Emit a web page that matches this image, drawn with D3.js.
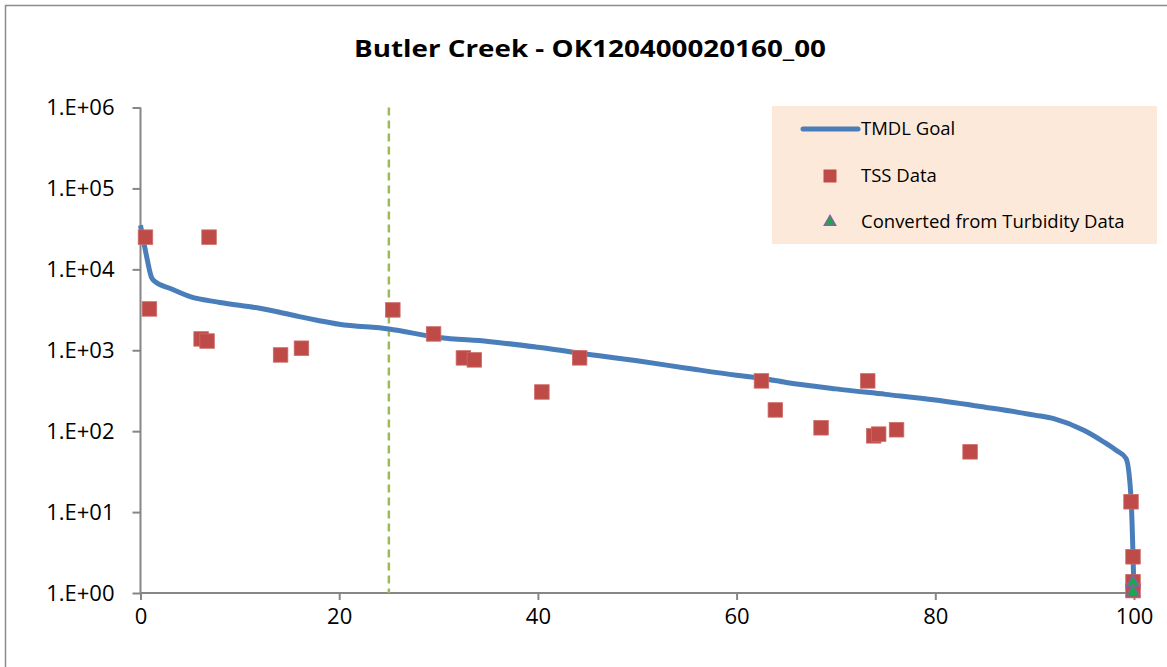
<!DOCTYPE html>
<html>
<head>
<meta charset="utf-8">
<script src="https://cdn.jsdelivr.net/npm/d3@7/dist/d3.min.js"></script>
<style>
  html, body { margin: 0; padding: 0; background: #fff; }
  svg { display: block; }
  text { font-family: "Open Sans", "Liberation Sans", sans-serif; fill: #000; }
</style>
</head>
<body>
<svg id="chart" width="1167" height="667"></svg>
<script>
// Load duration curve: percent of days flow exceeded vs. TSS load
const chartTitle = "Butler Creek - OK120400020160_00";

// TMDL goal curve
const tmdlPct  = [0, 0.5, 1.1, 1.5, 3, 5, 8, 12, 14, 16, 18, 20, 25, 30, 35, 40, 46, 50, 55, 60, 62.5, 65, 70, 75, 80, 85, 90, 92, 95, 97, 98.2, 99.2, 99.7, 100];
const tmdlLoad = [35000, 17000, 8000, 7000, 5800, 4600, 3900, 3300, 2950, 2600, 2320, 2100, 1830, 1440, 1285, 1087, 860, 740, 600, 490, 450, 400, 333, 285, 243, 198, 158, 142, 102, 73, 58, 46, 15, 1];

// Observed TSS loads
const tssPct  = [0.5, 6.9, 0.9, 6.1, 6.7, 14.1, 16.2, 25.4, 29.5, 32.5, 33.6, 40.4, 44.2, 62.5, 63.9, 68.5, 73.2, 73.8, 74.3, 76.1, 83.5, 99.7, 99.9, 99.9, 99.9];
const tssLoad = [25000, 25000, 3240, 1380, 1300, 875, 1060, 3150, 1590, 804, 760, 305, 805, 418, 183, 110, 418, 87.5, 92, 104, 55.5, 13.4, 2.8, 1.38, 1.07];

// Loads converted from turbidity
const turbPct  = [99.9, 99.9];
const turbLoad = [1.34, 1.03];

const criticalPct = 25;

const xTicks = [0, 20, 40, 60, 80, 100];
const yTicks = [1, 10, 100, 1000, 10000, 100000, 1000000];
const yTickLabels = ["1.E+00", "1.E+01", "1.E+02", "1.E+03", "1.E+04", "1.E+05", "1.E+06"];

const legendLabels = ["TMDL Goal", "TSS Data", "Converted from Turbidity Data"];

const colors = {
  line: "#4A7EBB",
  tss: "#BE4B48",
  turbFill: "#1AA84A",
  turbStroke: "#8064A2",
  critical: "#9BBB59",
  axis: "#868686",
  legendBg: "#FDE9D9"
};

const svg = d3.select("#chart");

// outer chart frame
svg.append("rect")
  .attr("x", 5.5).attr("y", 5.5)
  .attr("width", 1200).attr("height", 700)
  .attr("fill", "#fff")
  .attr("stroke", "#8c8c8c").attr("stroke-width", 1.5);

const x = d3.scaleLinear().domain([0, 100]).range([140.5, 1134]);
const y = d3.scaleLog().domain([1, 1e6]).range([593, 107.5]);

// title
svg.append("text")
  .attr("x", 590).attr("y", 57)
  .attr("text-anchor", "middle")
  .attr("font-weight", "bold")
  .attr("font-size", 23)
  .attr("textLength", 472)
  .attr("lengthAdjust", "spacingAndGlyphs")
  .text(chartTitle);

// axes
const xAxis = d3.axisBottom(x).tickValues(xTicks).tickSize(7).tickPadding(8).tickFormat(d3.format("d"));
const yAxis = d3.axisLeft(y).tickValues(yTicks).tickSize(8).tickPadding(18)
  .tickFormat((d, i) => yTickLabels[i]);

const gx = svg.append("g").attr("transform", `translate(0,${y(1)})`).call(xAxis);
const gy = svg.append("g").attr("transform", `translate(${x(0)},0)`).call(yAxis);

[gx, gy].forEach(g => {
  g.select(".domain").attr("stroke", colors.axis).attr("stroke-width", 2);
  g.selectAll(".tick line").attr("stroke", colors.axis).attr("stroke-width", 2);
  g.selectAll(".tick text").attr("font-size", 22).attr("fill", "#000")
    .style("font-family", "'Open Sans', 'Liberation Sans', sans-serif");
});
gy.select(".domain").attr("d", `M0,${y(1e6)}V${y(1)}`);
gx.select(".domain").attr("d", `M${x(0)},0H${x(100)}`);

// clip for plotted series
svg.append("clipPath").attr("id", "plotClip")
  .append("rect").attr("x", x(0) - 10).attr("y", y(1e6))
  .attr("width", x(100) - x(0) + 20).attr("height", y(1) - y(1e6));

const plot = svg.append("g");

// critical-flow marker
plot.append("line")
  .attr("x1", x(criticalPct)).attr("x2", x(criticalPct))
  .attr("y1", y(1e6)).attr("y2", y(1))
  .attr("stroke", colors.critical).attr("stroke-width", 2.5)
  .attr("stroke-dasharray", "8,5");

// TMDL goal curve
const tmdl = tmdlPct.map((p, i) => [p, tmdlLoad[i]]);
plot.append("path")
  .datum(tmdl)
  .attr("clip-path", "url(#plotClip)")
  .attr("fill", "none")
  .attr("stroke", colors.line)
  .attr("stroke-width", 5)
  .attr("stroke-linejoin", "round")
  .attr("d", d3.line().x(d => x(d[0])).y(d => y(d[1])).curve(d3.curveMonotoneX));

// TSS squares
const sq = 14.5;
plot.selectAll("rect.tss")
  .data(tssPct.map((p, i) => [p, tssLoad[i]]))
  .join("rect")
  .attr("class", "tss")
  .attr("x", d => x(d[0]) - sq / 2)
  .attr("y", d => y(d[1]) - sq / 2)
  .attr("width", sq).attr("height", sq)
  .attr("fill", colors.tss)
  .attr("stroke", "#CC6A67").attr("stroke-width", 0.8);

// turbidity-derived triangles
const tri = d3.symbol().type(d3.symbolTriangle).size(75);
plot.selectAll("path.turb")
  .data(turbPct.map((p, i) => [p, turbLoad[i]]))
  .join("path")
  .attr("class", "turb")
  .attr("transform", d => `translate(${x(d[0])},${y(d[1])})`)
  .attr("d", tri)
  .attr("fill", colors.turbFill)
  .attr("stroke", colors.turbStroke).attr("stroke-width", 1.5);

// legend
const lg = svg.append("g");
lg.append("rect")
  .attr("x", 772).attr("y", 106)
  .attr("width", 385).attr("height", 138)
  .attr("fill", colors.legendBg);

lg.append("line")
  .attr("x1", 803).attr("x2", 858).attr("y1", 129).attr("y2", 129)
  .attr("stroke", colors.line).attr("stroke-width", 5).attr("stroke-linecap", "round");
lg.append("rect")
  .attr("x", 830 - 6.5).attr("y", 176 - 6.5).attr("width", 13).attr("height", 13)
  .attr("fill", colors.tss);
lg.append("path")
  .attr("transform", "translate(830,222)")
  .attr("d", d3.symbol().type(d3.symbolTriangle).size(55))
  .attr("fill", colors.turbFill)
  .attr("stroke", colors.turbStroke).attr("stroke-width", 1.5);

const legendY = [129, 176, 222];
lg.selectAll("text.lbl")
  .data(legendLabels)
  .join("text")
  .attr("class", "lbl")
  .attr("x", 861)
  .attr("y", (d, i) => legendY[i])
  .attr("dy", "0.35em")
  .attr("font-size", 18.5)
  .text(d => d);
</script>
</body>
</html>
